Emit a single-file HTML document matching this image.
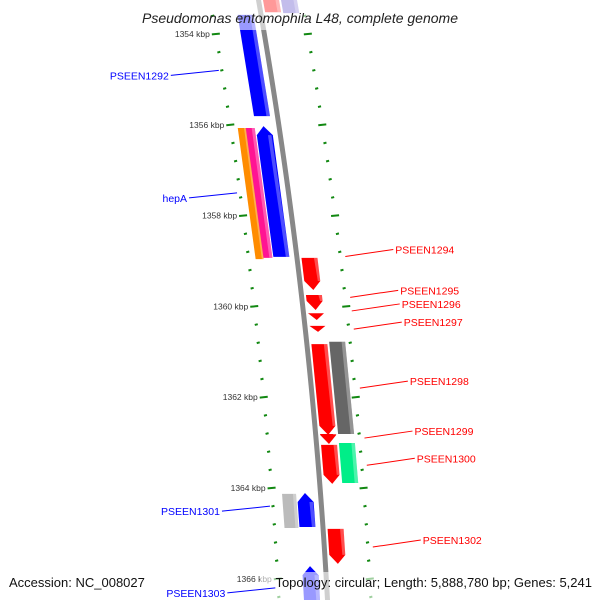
<!DOCTYPE html>
<html><head><meta charset="utf-8"><style>
body{margin:0;background:#fff}
svg{display:block;font-family:"Liberation Sans",sans-serif}
</style></head><body>
<svg id="map" width="600" height="600" viewBox="0 0 600 600"></svg>
<script>
const geneNames=["top-red","top-purple","PSEEN1292","blue2","pink","orange","PSEEN1294","PSEEN1295","PSEEN1296","PSEEN1297","PSEEN1298","gray1298","PSEEN1299","PSEEN1300","green1300","gray1301","PSEEN1301","PSEEN1302","PSEEN1303"];
const geneStart=[1353.25,1353.25,1353.58,1356.03,1356.07,1356.07,1358.93,1359.75,1360.15,1360.43,1360.83,1360.78,1362.81,1363.05,1363.01,1364.13,1364.11,1364.90,1365.72];
const geneEnd=[1353.52,1353.54,1355.81,1358.91,1358.93,1358.96,1359.64,1360.08,1360.30,1360.56,1362.83,1362.81,1363.03,1363.91,1363.89,1364.88,1364.86,1365.67,1366.70];
const geneRing=[1,2,-1,-1,-2,-3,1,1,1,1,1,2,1,1,2,-2,-1,1,-1];
const geneColor=["#ff0000","#6a5acd","#0000ff","#0000ff","#ff1493","#ff8c00","#ff0000","#ff0000","#ff0000","#ff0000","#ff0000","#666666","#ff0000","#ff0000","#00ee88","#bbbbbb","#0000ff","#ff0000","#0000ff"];
const geneArrow=[0,0,0,1,0,0,1,1,1,1,1,0,1,1,0,0,1,1,1];
const tickKbp=[1354,1356,1358,1360,1362,1364,1366];
const labelNames=["PSEEN1292","hepA","PSEEN1301","PSEEN1303","PSEEN1294","PSEEN1295","PSEEN1296","PSEEN1297","PSEEN1298","PSEEN1299","PSEEN1300","PSEEN1302"];
const labelKbp=[1354.8,1357.5,1364.4,1366.2,1358.9,1359.8,1360.1,1360.5,1361.8,1362.9,1363.5,1365.3];
const labelSide=[-1,-1,-1,-1,1,1,1,1,1,1,1,1];

const NS="http://www.w3.org/2000/svg",svg=document.getElementById('map');
const yOf=k=>34+(k-1354)*45.4;
const bx=y=>257+0.175*y-0.0001*y*y;
function mk(t,a,p){const e=document.createElementNS(NS,t);for(const k in a)e.setAttribute(k,a[k]);(p||svg).appendChild(e);return e;}
const ringOff={1:[6,22],2:[24,40],"-1":[-22,-6],"-2":[-37,-23],"-3":[-40,-32]};
// backbone
let d="";for(let y=-5;y<=605;y+=5)d+=(y<0?"M":"L")+(bx(y)+1.5)+","+y;
let bb=mk('path',{d:d,stroke:"#888",'stroke-width':5,fill:"none"});


// tick rings (dots)
for(let k=1353.2;k<=1366.8;k+=0.4){const y=yOf(k);const major=Math.abs((k-1354)/2-Math.round((k-1354)/2))<0.01;
 [-47,45].forEach(o=>{const x=bx(y)+o;const r=mk('line',{x1:x-(major?4:1.5),y1:y+0.4,x2:x+(major?4:1.5),y2:y-0.4,stroke:"#118811",'stroke-width':2});
 
 });}
tickKbp.forEach(k=>{const y=yOf(k);const t=mk('text',{x:bx(y)-53,y:y+3,'font-size':8.5,'text-anchor':'end',fill:"#333"});t.textContent=k+" kbp";
 
 });
// genes
geneNames.forEach((n,i)=>{const y1=yOf(geneStart[i]),y2=yOf(geneEnd[i]);const o=ringOff[geneRing[i]];const fw=geneRing[i]>0;
 const L=y=>bx(y)+o[0],R=y=>bx(y)+o[1];let pts;const tl=Math.min(9,y2-y1);
 if(!geneArrow[i])pts=[[L(y1),y1],[R(y1),y1],[R(y2),y2],[L(y2),y2]];
 else if(fw){const ya=y2-tl;pts=[[L(y1),y1],[R(y1),y1],[R(ya),ya],[(L(y2)+R(y2))/2,y2],[L(ya),ya]];}
 else{const ya=y1+tl;pts=[[(L(y1)+R(y1))/2,y1],[R(ya),ya],[R(y2),y2],[L(y2),y2],[L(ya),ya]];}
 const g=mk('polygon',{points:pts.map(p=>p.join(",")).join(" "),fill:geneColor[i]});
 
 
 const w=(o[1]-o[0])*0.22;const h=mk('polygon',{points:[[R(y1)-w,y1+(geneArrow[i]&&!fw?tl:0)],[R(y1),y1+(geneArrow[i]&&!fw?tl:0)],[R(y2),y2-(geneArrow[i]&&fw?tl:0)],[R(y2)-w,y2-(geneArrow[i]&&fw?tl:0)]].map(p=>p.join(",")).join(" "),fill:"#fff",opacity:0.3});
 
 });
// fades near text
const f1=mk('rect',{x:230,y:0,width:90,height:30,fill:"#fff",opacity:0.6});


const f2=mk('rect',{x:260,y:572,width:120,height:28,fill:"#fff",opacity:0.6});


// labels
labelNames.forEach((n,i)=>{const y=yOf(labelKbp[i]);const s=labelSide[i];const col=s<0?"#0000ff":"#ff0000";
 const x0=bx(y)+(s<0?-50:50);const x1=x0+s*48;const ly=y-6*s*(s>0?1:-1)*0+(s>0?-7:5);
 const ln=mk('line',{x1:x0,y1:y,x2:x1,y2:y+(s>0?-7:5),stroke:col,'stroke-width':1});
 
 
 const t=mk('text',{x:x1+s*2,y:y+(s>0?-7:5)+4,'font-size':10.5,'text-anchor':s<0?'end':'start',fill:col});t.textContent=n;
 
 });
const ti=mk('text',{x:300,y:23,'font-size':14,'text-anchor':'middle','font-style':'italic',fill:"#222"});ti.textContent="Pseudomonas entomophila L48, complete genome";


const a=mk('text',{x:9,y:587,'font-size':13,fill:"#111"});a.textContent="Accession: NC_008027";


const tp=mk('text',{x:592,y:587,'font-size':13,'text-anchor':'end',fill:"#111"});tp.textContent="Topology: circular; Length: 5,888,780 bp; Genes: 5,241";


</script>
</body></html>
